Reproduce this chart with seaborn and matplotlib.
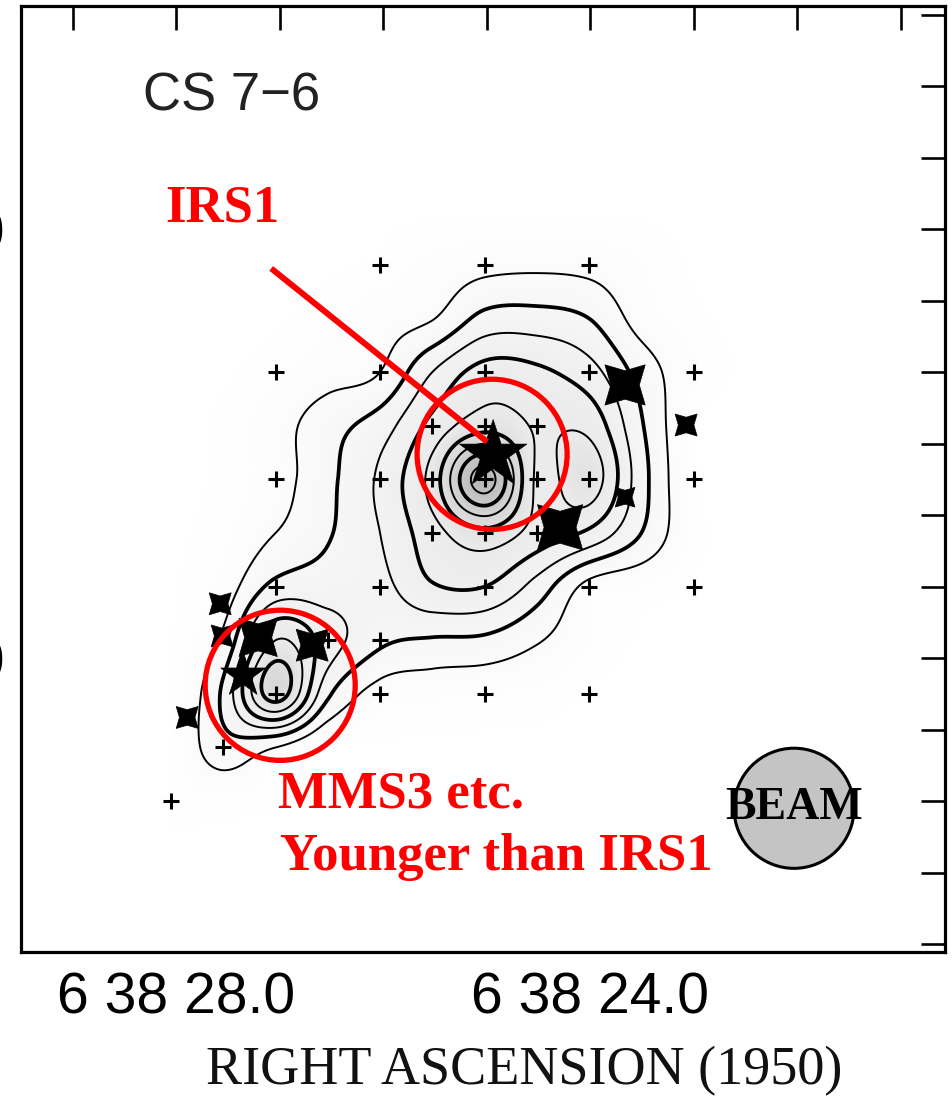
import numpy as np
import matplotlib
matplotlib.use("Agg")
import matplotlib.pyplot as plt
import seaborn as sns
from matplotlib.patches import Ellipse
from matplotlib.colors import LinearSegmentedColormap

# ---------------- axes / ticks ----------------
RA_LIM = (29.50, 20.57)          # RA seconds after 6h38m (east to the left)
DEC_LIM = (-41.1, 91.2)          # Dec arcsec after +9d32m00s
RA_MAJOR = [28, 24]
RA_MAJOR_LABELS = ["6 38 28.0", "6 38 24.0"]
RA_MINOR = [29, 27, 26, 25, 23, 22, 21]
DEC_MAJOR = [0, 60]
DEC_MAJOR_LABELS = ["9 32 00", "9 33 00"]
DEC_MINOR = [-40, -30, -20, -10, 10, 20, 30, 40, 50, 70, 80, 90]

# ---------------- CS 7-6 intensity map ----------------
# rows: Dec (top -> bottom), columns: RA (east/left -> west/right)
map_ra = [28.05, 27.545, 27.04, 26.535, 26.03, 25.525, 25.02, 24.515, 24.01, 23.505, 23.0, 22.495]
map_dec = [62.5, 55, 47.5, 40, 32.5, 25, 17.5, 10, 2.5, -5, -12.5, -20, -27.5]
map_row_62 = [0, 0, 0, 0, 0, 0, 0, 0, 0, 0, 0, 0]
map_row_55 = [0, 0, 0, 0, 0.1, 0.4, 0.7, 0.8, 0.7, 0.3, 0, 0]
map_row_47 = [0, 0, 0, 0.2, 0.6, 0.95, 2.3, 2.4, 2.0, 0.6, 0.1, 0]
map_row_40 = [0, 0, 0.2, 0.6, 1.0, 3.0, 4.4, 4.2, 3.4, 1.6, 0.3, 0]
map_row_32 = [0, 0.1, 0.6, 1.6, 2.5, 4.3, 5.6, 4.9, 4.7, 2.1, 0.1, 0]
map_row_25 = [0, 0.1, 0.6, 1.75, 3.2, 5.4, 9.5, 4.85, 5.6, 2.4, 0.1, 0]
map_row_17 = [0, 0.2, 1.0, 1.9, 3.0, 4.6, 5.7, 4.6, 3.8, 2.0, 0.2, 0]
map_row_10 = [0, 0.5, 2.3, 2.5, 2.7, 3.9, 4.0, 2.6, 0.7, 0.3, 0, 0]
map_row_02 = [0, 1.2, 5.0, 3.5, 2.2, 1.9, 1.8, 1.1, 0.3, 0, 0, 0]
map_row_m05 = [0, 2.2, 6.5, 2.2, 0.6, 0.4, 0.3, 0.2, 0, 0, 0, 0]
map_row_m12 = [0.1, 1.6, 1.0, 0, 0, 0, 0, 0, 0, 0, 0, 0]
map_row_m20 = [0.1, 0.2, 0.1, 0, 0, 0, 0, 0, 0, 0, 0, 0]
map_row_m27 = [0, 0, 0, 0, 0, 0, 0, 0, 0, 0, 0, 0]
contour_levels = [1, 2, 3, 4, 5, 6, 7, 8, 9]

# ---------------- observed grid positions (+) ----------------
cross_ra = [26.03, 25.02, 24.01,
            27.04, 26.03, 25.02, 24.01, 23.00,
            25.525, 25.02, 24.515,
            27.04, 26.03, 25.525, 25.02, 24.515, 24.01, 23.00,
            25.525, 25.02, 24.515,
            27.04, 26.03, 25.02, 24.01, 23.00,
            26.535, 26.03,
            27.04, 26.03, 25.02, 24.01,
            27.545,
            28.05]
cross_dec = [55, 55, 55,
             40, 40, 40, 40, 40,
             32.5, 32.5, 32.5,
             25, 25, 25, 25, 25, 25, 25,
             17.5, 17.5, 17.5,
             10, 10, 10, 10, 10,
             2.5, 2.5,
             -5, -5, -5, -5,
             -12.5,
             -20]

# ---------------- infrared sources ----------------
star5_ra = [24.937, 27.353]
star5_dec = [28.4, -2.4]
star5_size = [2600, 1150]
star4_ra = [23.662, 24.290, 23.072, 23.662, 27.575, 27.556, 27.208, 26.686, 27.894]
star4_dec = [38.2, 18.3, 32.6, 22.5, 7.6, 3.1, 2.9, 1.8, -8.3]
star4_size = [1680, 2120, 500, 400, 500, 500, 1520, 1060, 500]

# ---------------- annotations ----------------
circle_ra = [24.947, 26.995]
circle_dec = [28.5, -3.8]
circle_w = 1.45     # RA seconds (diameter)
circle_h = 21.0     # arcsec (diameter)
arrow_ra = [27.082, 24.995]
arrow_dec = [54.5, 30.25]
beam_ra, beam_dec = 22.029, -21.0
beam_w, beam_h = 1.16, 16.8


def catmull_rom(nodes, xs):
    nodes = np.asarray(nodes, float)
    n = len(nodes)
    h = nodes[1] - nodes[0]
    t = (np.asarray(xs, float) - nodes[0]) / h
    inside = (t >= 0) & (t <= n - 1)
    t = np.clip(t, 0, n - 1 - 1e-9)
    i = np.floor(t).astype(int)
    f = t - i
    w = [(-f ** 3 + 2 * f ** 2 - f) / 2,
         (3 * f ** 3 - 5 * f ** 2 + 2) / 2,
         (-3 * f ** 3 + 4 * f ** 2 + f) / 2,
         (f ** 3 - f ** 2) / 2]
    M = np.zeros((len(xs), n))
    rows = np.arange(len(xs))
    for k, wk in zip(range(-1, 3), w):
        idx = np.clip(i + k, 0, n - 1)
        np.add.at(M, (rows, idx), wk)
    M[~inside] = 0
    return M


sns.set_theme(style="white")
plt.rcParams["font.family"] = ["Liberation Sans", "DejaVu Sans"]

fig = plt.figure(figsize=(9.53, 10.97), dpi=100)
ax = fig.add_axes([0.02204, 0.13218, 0.96957, 0.86235])

grid_vals = np.array([map_row_62, map_row_55, map_row_47, map_row_40, map_row_32, map_row_25,
                      map_row_17, map_row_10, map_row_02, map_row_m05, map_row_m12,
                      map_row_m20, map_row_m27])
ra_g = np.linspace(20.57, 29.50, 600)
dec_g = np.linspace(-41.1, 91.2, 700)
Mx = catmull_rom(map_ra, ra_g)
My = catmull_rom(map_dec, dec_g)
field = My @ grid_vals @ Mx.T
RR, DD = np.meshgrid(ra_g, dec_g)

cmap = LinearSegmentedColormap.from_list("g", ["#ffffff", "#ebebeb", "#b4b4b4"])
ax.imshow(np.clip(field, 0, None), extent=[ra_g[0], ra_g[-1], dec_g[0], dec_g[-1]],
          origin="lower", cmap=cmap, vmin=0, vmax=10, aspect="auto",
          interpolation="bilinear", zorder=0)
lws = [1.4 if i % 2 == 0 else 2.7 for i in range(len(contour_levels))]
ax.contour(RR, DD, field, levels=contour_levels, colors="black", linewidths=lws, zorder=2)

# crosses and stars
sns.scatterplot(x=cross_ra, y=cross_dec, marker="+", s=140, color="black",
                linewidth=2.2, ax=ax, zorder=3)
sns.scatterplot(x=star4_ra, y=star4_dec, marker=(4, 1, 45), s=star4_size, color="black",
                edgecolor="black", linewidth=0.5, ax=ax, zorder=4)
sns.scatterplot(x=star5_ra, y=star5_dec, marker="*", s=star5_size, color="black",
                edgecolor="black", linewidth=0.5, ax=ax, zorder=4)

# red annotations
for cr, cd in zip(circle_ra, circle_dec):
    ax.add_patch(Ellipse((cr, cd), circle_w, circle_h, fill=False, edgecolor="#ff0000",
                         linewidth=3.8, zorder=5))
ax.plot(arrow_ra, arrow_dec, color="#ff0000", linewidth=4.3, zorder=5, solid_capstyle="butt")
red_font = dict(family="Liberation Serif", weight="bold", color="#ff0000", fontsize=38)
ax.text(0.156, 0.772, "IRS1", transform=ax.transAxes, va="baseline", ha="left", **red_font)
ax.text(0.278, 0.153, "MMS3 etc.", transform=ax.transAxes, va="baseline", ha="left", **red_font)
ax.text(0.280, 0.0867, "Younger than IRS1", transform=ax.transAxes, va="baseline", ha="left", **red_font)

# beam
ax.add_patch(Ellipse((beam_ra, beam_dec), beam_w, beam_h, facecolor="#c4c4c4",
                     edgecolor="black", linewidth=2.2, zorder=4))
ax.text(beam_ra, beam_dec, "BEAM", ha="center", va="center", family="Liberation Serif",
        weight="bold", fontsize=33, color="black", zorder=6)

ax.text(0.132, 0.890, "CS 7\u22126", transform=ax.transAxes, va="baseline", ha="left",
        fontsize=38, color="#222222")

# axes
ax.set_xlim(*RA_LIM)
ax.set_ylim(*DEC_LIM)
ax.set_xticks(RA_MAJOR)
ax.set_xticklabels(RA_MAJOR_LABELS)
ax.set_xticks(RA_MINOR, minor=True)
ax.set_yticks(DEC_MAJOR)
ax.set_yticklabels(DEC_MAJOR_LABELS)
ax.set_yticks(DEC_MINOR, minor=True)
ax.tick_params(which="both", direction="in", length=17, width=1.9, top=True, right=True,
               colors="black", labelsize=41)
ax.tick_params(axis="x", which="both", pad=14)
ax.tick_params(axis="y", which="both", pad=12)
for s in ax.spines.values():
    s.set_linewidth(2.3)
    s.set_color("black")
ax.set_xlabel("RIGHT ASCENSION (1950)", family="Liberation Serif", fontsize=39, color="#111111")
ax.xaxis.label.set_va("baseline")
ax.xaxis.set_label_coords(0.545, -0.1395)
ax.set_ylabel("")
ax.grid(False)

fig.savefig("out.png", dpi=100)
